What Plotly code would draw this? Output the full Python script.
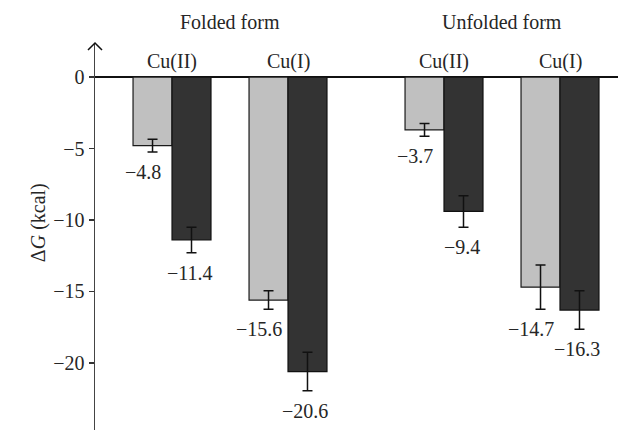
import plotly.graph_objects as go

# ---- data ----
forms = ["Folded form", "Unfolded form"]
metals = ["Cu(II)", "Cu(I)"]
light_values = [-4.8, -15.6, -3.7, -14.7]
dark_values = [-11.4, -20.6, -9.4, -16.3]
light_err = [0.45, 0.65, 0.45, 1.55]
dark_err = [0.9, 1.35, 1.1, 1.35]
y_ticks = [0, -5, -10, -15, -20]

# ---- layout helpers ----
FORM_STEP = 2.345   # distance between form groups (in metal-pair units)
BAR_W = 0.336
pair_x = []
pair_lbl = []
for fi, f in enumerate(forms):
    for mi, m in enumerate(metals):
        pair_x.append(fi * FORM_STEP + mi)
        pair_lbl.append(m)
light_x = [x - BAR_W / 2 for x in pair_x]
dark_x = [x + BAR_W / 2 for x in pair_x]

FONT = "Liberation Serif"
TXT = "#262626"
FS = 20

fig = go.Figure()
fig.add_trace(go.Bar(
    x=light_x, y=light_values, width=BAR_W,
    marker=dict(color="#c0c0c0", line=dict(color="#1a1a1a", width=1.2)),
    error_y=dict(type="data", array=light_err, visible=True,
                 color="#111111", thickness=1.5, width=5),
    showlegend=False, hoverinfo="skip"))
fig.add_trace(go.Bar(
    x=dark_x, y=dark_values, width=BAR_W,
    marker=dict(color="#333333", line=dict(color="#111111", width=1.2)),
    error_y=dict(type="data", array=dark_err, visible=True,
                 color="#111111", thickness=1.5, width=5),
    showlegend=False, hoverinfo="skip"))

annotations = []
# value labels below error bars
for xs, vals, errs, dx in ((light_x, light_values, light_err, -10),
                           (dark_x, dark_values, dark_err, -2)):
    for x, v, e in zip(xs, vals, errs):
        annotations.append(dict(
            x=x, xref="x", y=v - e, yref="y",
            text="\u2212" + f"{abs(v):.1f}", showarrow=False,
            yanchor="middle", yshift=-20, xshift=dx,
            font=dict(family=FONT, size=FS, color=TXT)))
# metal labels
for x, lbl in zip(pair_x, pair_lbl):
    annotations.append(dict(x=x, xref="x", y=0.951, yref="paper", text=lbl,
                            showarrow=False, yanchor="middle",
                            font=dict(family=FONT, size=FS, color=TXT)))
# form labels
for fi, f in enumerate(forms):
    cx = fi * FORM_STEP + (len(metals) - 1) / 2
    annotations.append(dict(x=cx, xref="x", y=1.054, yref="paper", text=f,
                            showarrow=False, yanchor="middle",
                            font=dict(family=FONT, size=FS, color=TXT)))
# y-axis title
annotations.append(dict(x=-0.109, xref="paper", y=0.537, yref="paper",
                        text="\u0394<i>G</i> (kcal)", textangle=-90,
                        showarrow=False, xanchor="center", yanchor="middle",
                        font=dict(family=FONT, size=FS, color=TXT)))

shapes = [
    # arrow head on the y axis
    dict(type="path", xref="paper", yref="paper",
         path="M -0.0134 0.982 L 0 1.0 L 0.0134 0.982",
         line=dict(color="#111111", width=1.5)),
]

fig.update_layout(
    width=618, height=430,
    margin=dict(l=95, r=0, t=43, b=0),
    plot_bgcolor="white", paper_bgcolor="white",
    barmode="overlay",
    xaxis=dict(range=[-0.664, 3.845], showticklabels=False, showgrid=False,
               zeroline=False, showline=False, ticks=""),
    yaxis=dict(range=[-24.69, 2.38], tickvals=y_ticks,
               ticktext=["0" if t == 0 else "\u2212" + str(abs(t)) for t in y_ticks],
               ticks="outside", ticklen=5, tickwidth=1.2, tickcolor="#333333",
               showline=True, linecolor="#444444", linewidth=1.5,
               showgrid=False, zeroline=True, zerolinecolor="#111111",
               zerolinewidth=1.3,
               tickfont=dict(family=FONT, size=FS, color=TXT)),
    annotations=annotations,
    shapes=shapes,
)

fig.write_html("out.html",
               config={"displayModeBar": False, "staticPlot": True},
               post_script="document.body.style.margin='0px';"
                           "document.body.style.padding='0px';")
